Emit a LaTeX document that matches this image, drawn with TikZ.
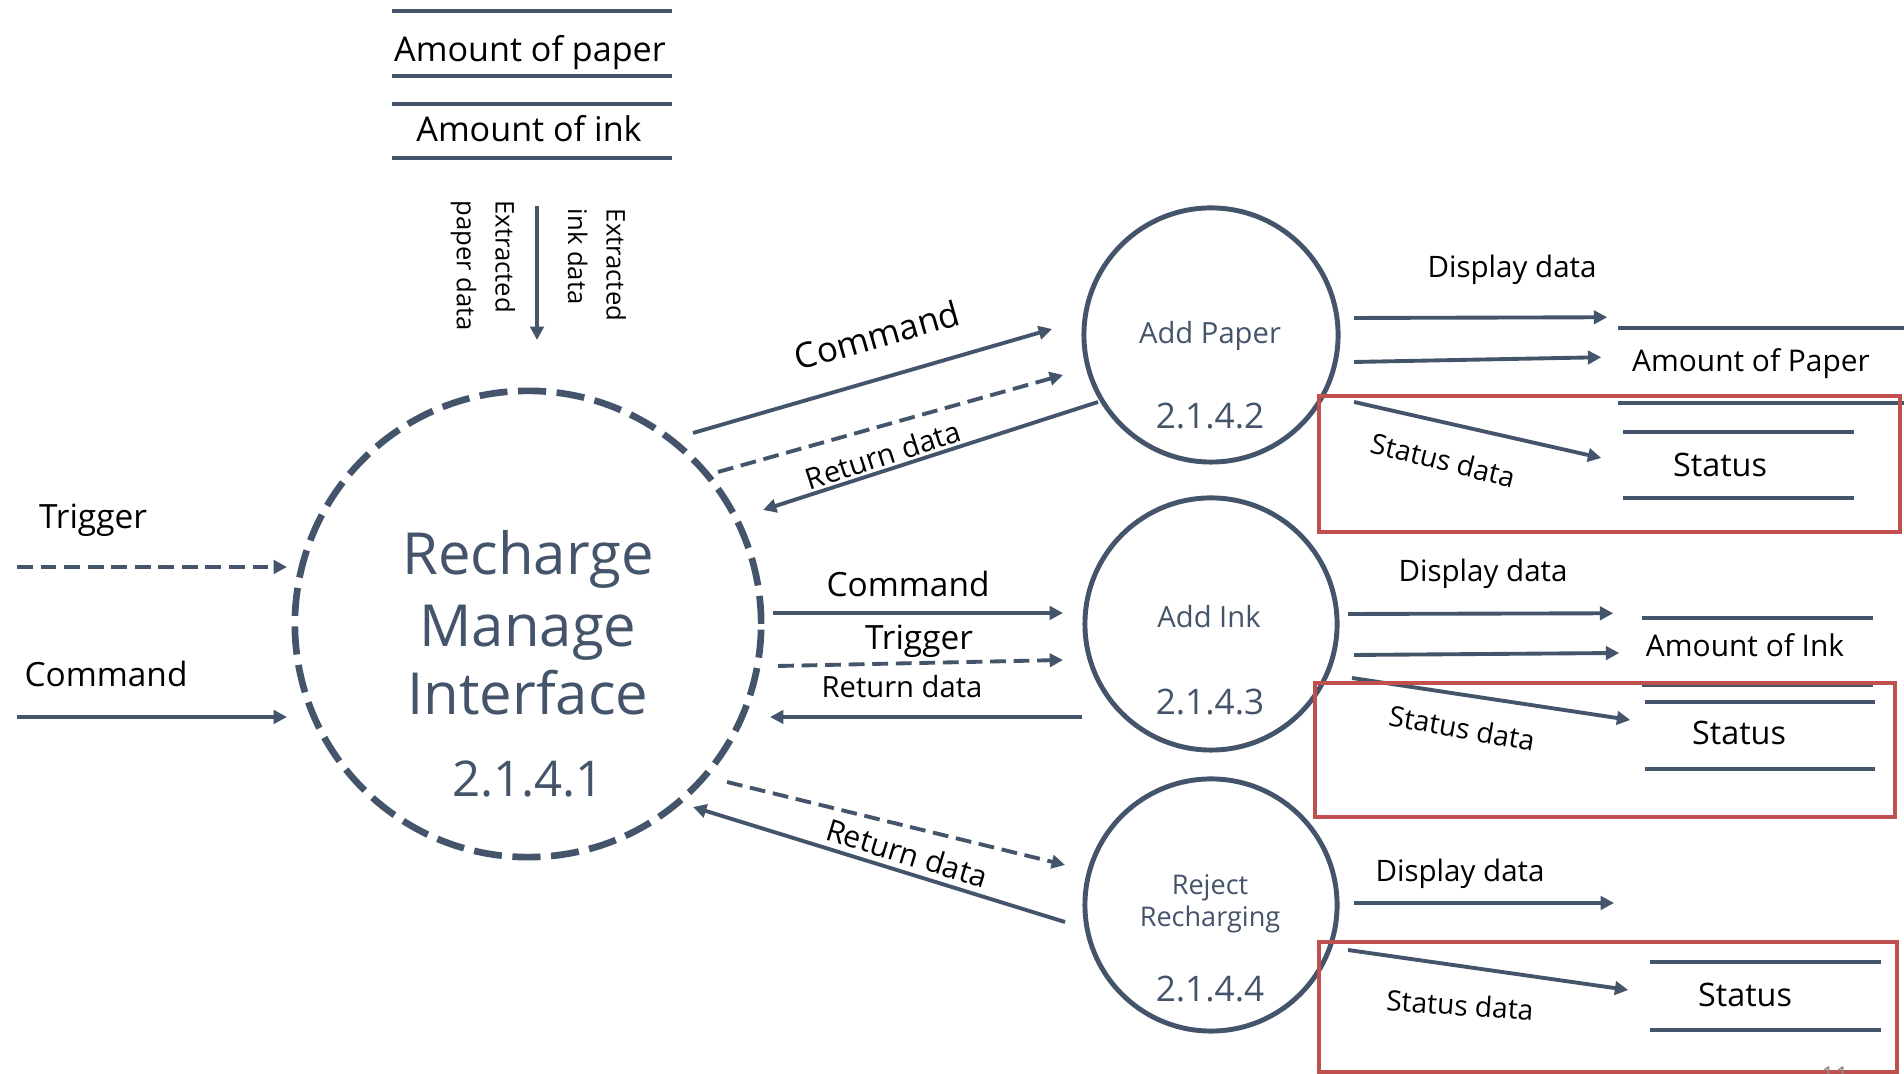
\documentclass[tikz,border=0pt]{standalone}
\usepackage{fontspec}
\setmainfont{Open Sans}
\usetikzlibrary{arrows.meta,calc}
\definecolor{slate}{HTML}{44546A}
\definecolor{boxred}{HTML}{C0504D}
\definecolor{pgnum}{HTML}{8C8C8C}
\newcommand\fsz[2]{\fontsize{#1}{#2}\selectfont}
\begin{document}
\begin{tikzpicture}[x=0.01cm,y=0.01cm,
  flow/.style={draw=slate, line width=1.1pt, -{Triangle[length=3.8pt,width=3.8pt]}},
  dflow/.style={flow, dash pattern=on 4.5pt off 2.2pt},
  proc/.style={circle, draw=slate, line width=1.4pt, minimum size=2.52cm, inner sep=0pt},
  mainproc/.style={circle, draw=slate, line width=1.9pt, dash pattern=on 8pt off 3pt, minimum size=4.66cm, inner sep=0pt},
  ptext/.style={text=slate, anchor=base, inner sep=0pt},
  lbl/.style={anchor=base, inner sep=0pt, text=black},
  rlbl/.style={inner sep=0pt, text=black},
  storebox/.style={inner sep=0pt},
  storeline/.style={draw=slate, line width=1.1pt},
  redbox/.style={draw=boxred, line width=1.2pt, inner sep=0pt},
]
\useasboundingbox (0,0) rectangle (1904,1074);
\fill[white] (0,0) rectangle (1904,1074);
\clip (0,0) rectangle (1904,1074);

% ---------- processes ----------
\node[mainproc] (main) at (528,450) {};
\node[proc, minimum size=2.54cm] (paper) at (1211,739) {};
\node[proc] (ink) at (1211,450) {};
\node[proc] (reject) at (1211,169) {};

\node[ptext, font=\fsz{16.5}{20}] (m1) at (528,499) {Recharge};
\node[ptext, font=\fsz{16.5}{20}] (m2) at (528,427) {Manage};
\node[ptext, font=\fsz{16.5}{20}] (m3) at (528,359) {Interface};
\node[ptext, font=\fsz{14}{17}] (m4) at (528,277) {2.1.4.1};

\node[ptext, font=\fsz{8.3}{10}] (p1) at (1210,730) {Add Paper};
\node[ptext, font=\fsz{10}{12}] (p2) at (1210,645) {2.1.4.2};
\node[ptext, font=\fsz{8.3}{10}] (i1) at (1209,446) {Add Ink};
\node[ptext, font=\fsz{10}{12}] (i2) at (1210,359) {2.1.4.3};
\node[ptext, font=\fsz{7.7}{9}] (r1) at (1210,179) {Reject};
\node[ptext, font=\fsz{7.7}{9}] (r2) at (1210,147) {Recharging};
\node[ptext, font=\fsz{10}{12}] (r3) at (1210,72) {2.1.4.4};

% ---------- top data stores ----------
\node[storebox, minimum width=2.78cm, minimum height=0.63cm] (ps) at (532,1030.5) {};
\node[lbl, font=\fsz{9.7}{12}] (pst) at (530,1012) {Amount of paper};
\node[storebox, minimum width=2.78cm, minimum height=0.52cm] (is) at (532,943) {};
\node[lbl, font=\fsz{9.7}{12}] (ist) at (529,932) {Amount of ink};
\draw[storeline] (ps.north west) -- (ps.north east) (ps.south west) -- (ps.south east);
\draw[storeline] (is.north west) -- (is.north east) (is.south west) -- (is.south east);

\node[rlbl, rotate=-90, align=left, font=\fsz{7.3}{11}] (exp) at (483,808) {Extracted\\paper data};
\node[rlbl, rotate=-90, align=left, font=\fsz{7.3}{11}] (exi) at (597,809) {Extracted\\ink data};
\draw[flow] ($(is.south)+(5,-48)$) -- ($(main.center)+(9,284)$);

% ---------- left inputs ----------
\coordinate (trigsrc) at (17,507);
\coordinate (cmdsrc) at (17,357);
\draw[dflow] (trigsrc) -- ($(main.center)+(-241,57)$);
\draw[flow] (cmdsrc) -- ($(main.center)+(-241,-93)$);
\node[lbl, font=\fsz{9.5}{12}] (lt) at (93,545) {Trigger};
\node[lbl, font=\fsz{9.5}{12}] (lc) at (106,387) {Command};

% ---------- main <-> add paper ----------
\draw[flow] ($(main.center)+(165,191)$) -- ($(paper.center)+(-159,6)$);
\draw[dflow] ($(main.center)+(190,152)$) -- ($(paper.center)+(-148,-40)$);
\draw[flow] ($(paper.center)+(-113,-67)$) -- ($(main.center)+(235,114)$);
\node[rlbl, font=\fsz{9.9}{12}, rotate=16] (lpc) at (877,739) {Command};
\node[rlbl, font=\fsz{8.3}{10}, rotate=18] (lpr) at (883,619) {Return data};

% ---------- main <-> add ink ----------
\draw[flow] ($(main.center)+(245,11)$) -- ($(ink.center)+(-148,11)$);
\draw[dflow] ($(main.center)+(250,-42)$) -- ($(ink.center)+(-148,-36)$);
\draw[flow] ($(ink.center)+(-129,-93)$) -- ($(main.center)+(242,-93)$);
\node[lbl, font=\fsz{9.5}{12}] (lic) at (908,477) {Command};
\node[lbl, font=\fsz{9.5}{12}] (lit) at (919,424) {Trigger};
\node[lbl, font=\fsz{8.3}{10}] (lir) at (902,376) {Return data};

% ---------- main <-> reject ----------
\draw[dflow] ($(main.center)+(199,-158)$) -- ($(reject.center)+(-146,40)$);
\draw[flow] ($(reject.center)+(-146,-17)$) -- ($(main.center)+(165,-183)$);
\node[rlbl, font=\fsz{8.6}{10}, rotate=-17] (lrr) at (907,221) {Return data};

% ---------- add paper outputs ----------
\node[storebox, minimum width=3.01cm, minimum height=0.735cm] (aps) at (1769.5,708.75) {};
\draw[storeline] (aps.north west) -- (aps.north east) (aps.south west) -- (aps.south east);
\node[lbl, font=\fsz{8.5}{10}] (apt) at (1751,702) {Amount of Paper};
\node[storebox, minimum width=2.29cm, minimum height=0.64cm] (ss1) at (1738.5,609) {};
\draw[storeline] (ss1.north west) -- (ss1.north east) (ss1.south west) -- (ss1.south east);
\node[lbl, font=\fsz{9.2}{11}] (s1t) at (1720,597) {Status};
\node[lbl, font=\fsz{8.4}{10}] (pd) at (1512,796) {Display data};
\draw[flow] ($(paper.center)+(143,17)$) -- ($(aps.north west)+(-11,10.5)$);
\draw[flow] ($(paper.center)+(143,-27)$) -- ($(aps.west)+(-17,8)$);
\draw[flow] ($(paper.center)+(143,-67)$) -- ($(ss1.west)+(-22,7)$);
\node[rlbl, font=\fsz{8}{10}, rotate=-14] (sd1) at (1443,614) {Status data};

% ---------- add ink outputs ----------
\node[storebox, minimum width=2.29cm, minimum height=0.65cm] (ais) at (1757.5,422.5) {};
\draw[storeline] (ais.north west) -- (ais.north east) (ais.south west) -- (ais.south east);
\node[lbl, font=\fsz{8.5}{10}] (ait) at (1745,417) {Amount of Ink};
\node[storebox, minimum width=2.28cm, minimum height=0.65cm] (ss2) at (1760,338.5) {};
\draw[storeline] (ss2.north west) -- (ss2.north east) (ss2.south west) -- (ss2.south east);
\node[lbl, font=\fsz{9.2}{11}] (s2t) at (1739,329) {Status};
\node[lbl, font=\fsz{8.4}{10}] (idd) at (1483,492) {Display data};
\draw[flow] ($(ink.center)+(137,10)$) -- ($(ais.north west)+(-29,5)$);
\draw[flow] ($(ink.center)+(143,-31)$) -- ($(ais.west)+(-23,-1.5)$);
\draw[flow] ($(ink.center)+(141,-54)$) -- ($(ss2.west)+(-15,15.5)$);
\node[rlbl, font=\fsz{8}{10}, rotate=-10] (sd2) at (1462,346) {Status data};

% ---------- reject outputs ----------
\node[storebox, minimum width=2.29cm, minimum height=0.66cm] (ss3) at (1765.5,78) {};
\draw[storeline] (ss3.north west) -- (ss3.north east) (ss3.south west) -- (ss3.south east);
\node[lbl, font=\fsz{9.2}{11}] (s3t) at (1745,67) {Status};
\node[lbl, font=\fsz{8.4}{10}] (rdd) at (1460,192) {Display data};
\coordinate (rdend) at (1614,171);
\draw[flow] ($(reject.center)+(143,2)$) -- (rdend);
\draw[flow] ($(reject.center)+(137,-45)$) -- ($(ss3.west)+(-22,6)$);
\node[rlbl, font=\fsz{8}{10}, rotate=-4] (sd3) at (1460,69) {Status data};

% ---------- red highlight boxes ----------
\node[redbox, minimum width=5.81cm, minimum height=1.36cm] (rb1) at (1609.5,610) {};
\node[redbox, minimum width=5.80cm, minimum height=1.34cm] (rb2) at (1605,324) {};
\node[redbox, minimum width=5.78cm, minimum height=1.30cm] (rb3) at (1608,67) {};

% ---------- page number (cut off) ----------
\node[lbl, text=pgnum, font=\fsz{7}{8}] (pg) at (1835,-11) {11};
\end{tikzpicture}
\end{document}
